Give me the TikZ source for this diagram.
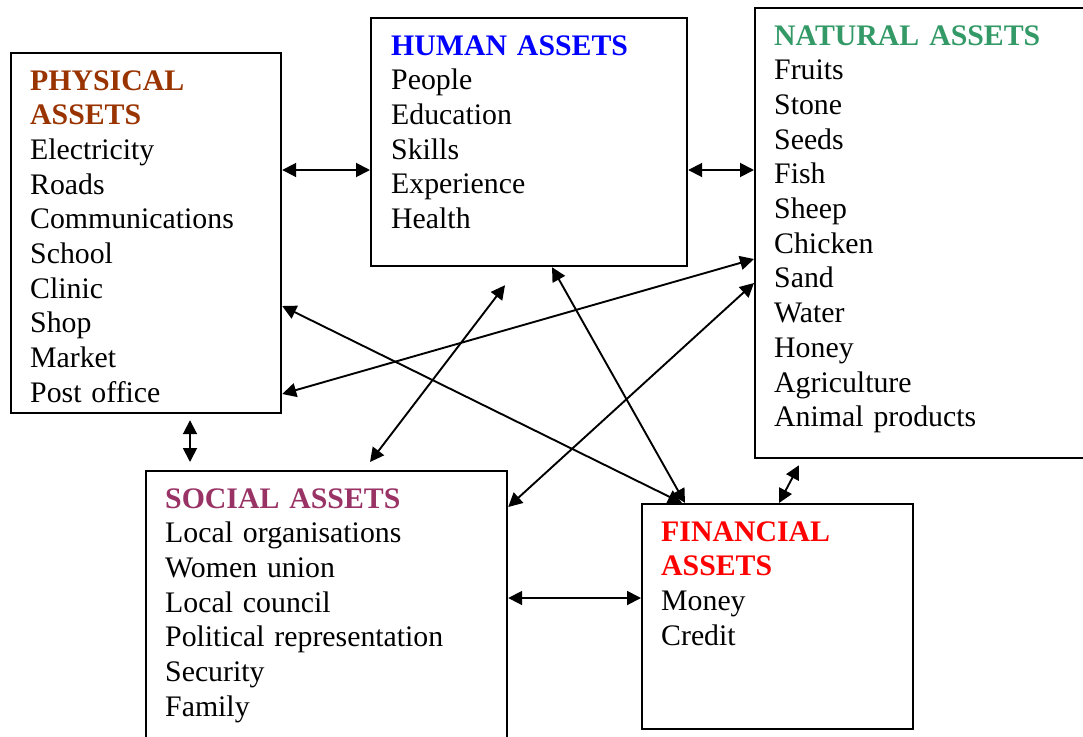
\documentclass[tikz,border=0pt]{standalone}
\usepackage{fontspec}
\setmainfont{Liberation Serif}
\usetikzlibrary{arrows.meta,calc}
\definecolor{physc}{HTML}{993300}
\definecolor{humanc}{HTML}{0000FF}
\definecolor{natc}{HTML}{339966}
\definecolor{socc}{HTML}{993366}
\definecolor{finc}{HTML}{FF0000}
\begin{document}
\begin{tikzpicture}[x=1pt,y=-1pt,
  box/.style={draw, line width=2.2pt, rectangle, inner sep=0pt, anchor=north west},
  txt/.style={anchor=base west, align=left, text width=420pt, inner sep=0pt,
    font=\fontsize{29.8}{34.7}\selectfont},
  link/.style={line width=1.9pt, {Triangle[length=14pt,width=14pt]}-{Triangle[length=14pt,width=14pt]}}
]
\clip (0,0) rectangle (1083,736);
\fill[white] (0,0) rectangle (1083,736);

% boxes
\node[box, minimum width=270pt, minimum height=360pt] (phys) at (10,52) {};
\node[box, minimum width=316pt, minimum height=248pt] (human) at (370,17) {};
\node[box, minimum width=360pt, minimum height=450pt] (natural) at (754,7) {};
\node[box, minimum width=361pt, minimum height=300pt] (social) at (145,470) {};
\node[box, minimum width=271pt, minimum height=225pt] (fin) at (641,503) {};

% texts
\node[txt] (physt) at (30,90) {\textbf{\color{physc}PHYSICAL}\\\textbf{\color{physc}ASSETS}\\Electricity\\Roads\\Communications\\School\\Clinic\\Shop\\Market\\Post office};
\node[txt] (humant) at (391,55) {\textbf{\color{humanc}HUMAN ASSETS}\\People\\Education\\Skills\\Experience\\Health};
\node[txt] (natt) at (774,45) {\textbf{\color{natc}NATURAL ASSETS}\\Fruits\\Stone\\Seeds\\Fish\\Sheep\\Chicken\\Sand\\Water\\Honey\\Agriculture\\Animal products};
\node[txt] (soct) at (165,508) {\textbf{\color{socc}SOCIAL ASSETS}\\Local organisations\\Women union\\Local council\\Political representation\\Security\\Family};
\node[txt] (fint) at (661,541) {\textbf{\color{finc}FINANCIAL}\\\textbf{\color{finc}ASSETS}\\Money\\Credit};

% connectors
\draw[link] ([yshift=-118pt]phys.north east) -- ([yshift=-153pt]human.north west);
\draw[link] ([yshift=-153pt]human.north east) -- ([yshift=-163pt]natural.north west);
\draw[link] ([xshift=180pt,yshift=-6pt]phys.south west) -- ([xshift=45pt,yshift=8pt]social.north west);
\draw[link] ([yshift=-128pt]social.north east) -- ([yshift=-95pt]fin.north west);
\draw[link] ([xshift=45pt,yshift=-6pt]natural.south west) -- ([xshift=138pt]fin.north west);
\draw[link] ([yshift=-254pt]phys.north east) -- ([xshift=41pt]fin.north west);
\draw[link] ([yshift=-342pt]phys.north east) -- ([yshift=-252pt]natural.north west);
\draw[link] ([xshift=135pt,yshift=-18pt]human.south west) -- ([xshift=225pt,yshift=8pt]social.north west);
\draw[link] ([xshift=182pt]human.south west) -- ([xshift=44pt]fin.north west);
\draw[link] ([yshift=-276pt]natural.north west) -- ([yshift=-37pt]social.north east);
\end{tikzpicture}
\end{document}
